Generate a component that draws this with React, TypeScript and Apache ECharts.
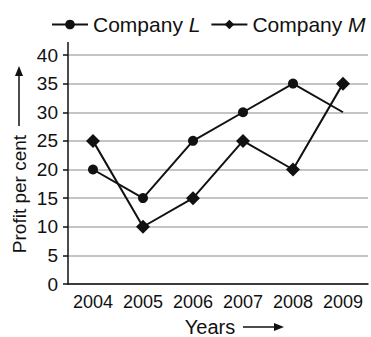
import React, { useEffect, useRef } from "react";
import * as echarts from "echarts";

const years = ["2004", "2005", "2006", "2007", "2008", "2009"];
const companyL = [20, 15, 25, 30, 35, 30];
const companyM = [25, 10, 15, 25, 20, 35];
const yMin = 0;
const yMax = 40;
const yStep = 5;

const FONT = "'Liberation Sans', Arial, Helvetica, sans-serif";
const INK = "#111111";

export default function App() {
  const ref = useRef<HTMLDivElement>(null);
  useEffect(() => {
    if (!ref.current) return;
    const chart = echarts.init(ref.current, undefined, { renderer: "svg" });
    const lData = companyL.map((v, i) =>
      i === companyL.length - 1 ? { value: v, symbol: "none" } : v
    );
    chart.setOption({
      animation: false,
      textStyle: { fontFamily: FONT, color: INK },
      legend: {
        left: 46,
        top: 9,
        itemWidth: 36,
        itemHeight: 12,
        itemGap: 10,
        textStyle: {
          fontFamily: FONT,
          fontSize: 21,
          color: INK,
          rich: {
            a: { fontFamily: FONT, fontSize: 21, color: INK },
            b: { fontFamily: FONT, fontSize: 21, color: INK, fontStyle: "italic" },
          },
        },
        formatter: (name: string) => {
          const parts = name.split(" ");
          return `{a|${parts[0]} }{b|${parts[1]}}`;
        },
        data: ["Company L", "Company M"],
      },
      grid: { left: 68, right: 3, top: 55, bottom: 53, containLabel: false },
      xAxis: {
        type: "category",
        data: years,
        boundaryGap: true,
        axisLine: { lineStyle: { color: INK, width: 1.5 } },
        axisTick: { alignWithLabel: true, length: 4, lineStyle: { color: INK, width: 1.5 } },
        axisLabel: {
          fontFamily: FONT,
          fontSize: 18,
          color: INK,
          margin: 9,
          interval: 0,
          hideOverlap: false,
        },
        splitLine: { show: false },
      },
      yAxis: {
        type: "value",
        min: yMin,
        max: yMax,
        interval: yStep,
        axisLine: { show: true, lineStyle: { color: INK, width: 1.5 } },
        axisTick: { show: true, length: 5, lineStyle: { color: INK, width: 1.5 } },
        axisLabel: { fontFamily: FONT, fontSize: 19, color: INK, margin: 10 },
        splitLine: { show: true, lineStyle: { color: "#b0b0b0", width: 1.6 } },
      },
      graphic: [
        {
          type: "line",
          shape: { x1: 68, y1: 55, x2: 68, y2: 42 },
          style: { stroke: INK, lineWidth: 1.5 },
        },
        {
          type: "text",
          x: 19,
          y: 194,
          rotation: Math.PI / 2,
          style: {
            text: "Profit per cent",
            font: `19px ${FONT}`,
            fill: INK,
            align: "center",
            verticalAlign: "middle",
          },
        },
        {
          type: "line",
          shape: { x1: 19, y1: 126, x2: 19, y2: 72 },
          style: { stroke: INK, lineWidth: 1.5 },
        },
        {
          type: "polygon",
          shape: { points: [[19, 66], [15, 76], [23, 76]] },
          style: { fill: INK },
        },
        {
          type: "text",
          x: 210,
          y: 327,
          style: {
            text: "Years",
            font: `20px ${FONT}`,
            fill: INK,
            align: "center",
            verticalAlign: "middle",
          },
        },
        {
          type: "line",
          shape: { x1: 243, y1: 327, x2: 277, y2: 327 },
          style: { stroke: INK, lineWidth: 1.5 },
        },
        {
          type: "polygon",
          shape: { points: [[284, 327], [274, 323], [274, 331]] },
          style: { fill: INK },
        },
      ],
      series: [
        {
          name: "Company L",
          type: "line",
          data: lData,
          symbol: "circle",
          symbolSize: 10,
          lineStyle: { color: INK, width: 2 },
          itemStyle: { color: INK },
          z: 3,
        },
        {
          name: "Company M",
          type: "line",
          data: companyM,
          symbol: "diamond",
          symbolSize: 14,
          lineStyle: { color: INK, width: 2 },
          itemStyle: { color: INK },
          z: 3,
        },
      ],
    });
    return () => chart.dispose();
  }, []);
  return (
    <div
      ref={ref}
      style={{ position: "fixed", left: 0, top: 0, width: 371, height: 337, background: "#fff" }}
    />
  );
}
